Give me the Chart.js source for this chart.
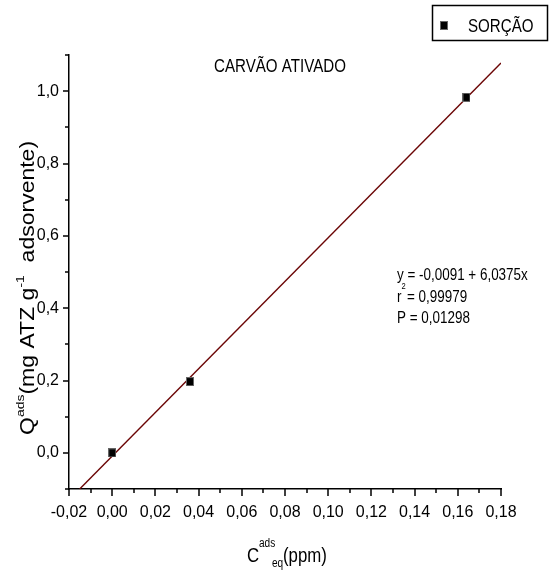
<!DOCTYPE html>
<html>
<head>
<meta charset="utf-8">
<script src="https://cdn.jsdelivr.net/npm/chart.js@4.4.1/dist/chart.umd.min.js"></script>
<style>
  html, body { margin: 0; padding: 0; background: #fff; }
  #wrap { width: 552px; height: 570px; position: relative; }
</style>
</head>
<body>
<div id="wrap"><canvas id="chart"></canvas></div>
<script>
// axis ticks (major ones get labels)
const xTickValues = [-0.02, 0.00, 0.02, 0.04, 0.06, 0.08, 0.10, 0.12, 0.14, 0.16, 0.18];
const xMinorValues = [-0.01, 0.01, 0.03, 0.05, 0.07, 0.09, 0.11, 0.13, 0.15, 0.17];
const yTickValues = [0.0, 0.2, 0.4, 0.6, 0.8, 1.0];
const yMinorValues = [-0.1, 0.1, 0.3, 0.5, 0.7, 0.9, 1.1];

// sorção - carvão ativado
const sorcaoX = [0.000, 0.036, 0.164];
const sorcaoY = [0.000, 0.197, 0.983];

// regressão linear: y = a + b x
const fitIntercept = -0.0091;
const fitSlope = 6.0375;
const fitRange = [-0.01506, 0.18];
const fitLines = ["y = -0,0091 + 6,0375x", "= 0,99979", "P = 0,01298"];

const SQUEEZE = 0.84;
const FONT = '"Liberation Sans", Arial, sans-serif';
const TICK_FONT = '"Liberation Sans Narrow", "Arial Narrow", "Liberation Sans", Arial, sans-serif';

Chart.defaults.font.family = FONT;
Chart.defaults.color = "#000";

// small black square used for the points and the legend
const marker = document.createElement("canvas");
marker.width = 8;
marker.height = 9;
(function () {
  const m = marker.getContext("2d");
  m.fillStyle = "#000";
  m.fillRect(0, 0, 8, 9);
  m.strokeStyle = "#666";
  m.lineWidth = 1;
  m.strokeRect(0.5, 0.5, 7, 8);
})();

function squeezedText(ctx, text, x, y, size, align) {
  ctx.save();
  ctx.translate(x, y);
  ctx.scale(SQUEEZE, 1);
  ctx.font = size + "px " + FONT;
  ctx.textAlign = align || "left";
  ctx.textBaseline = "alphabetic";
  ctx.fillStyle = "#000";
  ctx.fillText(text, 0, 0);
  const w = ctx.measureText(text).width * SQUEEZE;
  ctx.restore();
  return w;
}

const decorations = {
  id: "decorations",
  afterDraw(chart) {
    const ctx = chart.ctx;
    const xs = chart.scales.x;
    const ys = chart.scales.y;
    const { left, bottom } = chart.chartArea;

    // tick marks, pointing outwards
    ctx.save();
    ctx.strokeStyle = "#000";
    ctx.lineWidth = 1.5;
    ctx.beginPath();
    xTickValues.forEach(v => { const p = Math.round(xs.getPixelForValue(v)); ctx.moveTo(p, bottom); ctx.lineTo(p, bottom + 7); });
    xMinorValues.forEach(v => { const p = Math.round(xs.getPixelForValue(v)); ctx.moveTo(p, bottom); ctx.lineTo(p, bottom + 4); });
    yTickValues.forEach(v => { const p = Math.round(ys.getPixelForValue(v)); ctx.moveTo(left, p); ctx.lineTo(left - 6, p); });
    yMinorValues.forEach(v => { const p = Math.round(ys.getPixelForValue(v)); ctx.moveTo(left, p); ctx.lineTo(left - 4, p); });
    ctx.stroke();
    ctx.restore();

    // title
    squeezedText(ctx, "CARVÃO ATIVADO", 280, 72, 18, "center");

    // legend box
    ctx.save();
    ctx.strokeStyle = "#000";
    ctx.lineWidth = 1.5;
    ctx.strokeRect(432.5, 5.5, 115, 35);
    ctx.drawImage(marker, 440, 21);
    ctx.restore();
    squeezedText(ctx, chart.data.datasets[0].label, 468, 32, 18);

    // fit results
    squeezedText(ctx, fitLines[0], 397, 280, 16);
    const rw = squeezedText(ctx, "r", 397, 302, 16);
    squeezedText(ctx, "2", 397 + rw, 289, 9);
    squeezedText(ctx, fitLines[1], 407, 302, 16);
    squeezedText(ctx, fitLines[2], 397, 323, 16);

    // x axis title
    squeezedText(ctx, "C", 247, 562, 20);
    squeezedText(ctx, "ads", 259, 547, 12);
    squeezedText(ctx, "eq", 272, 567, 12);
    squeezedText(ctx, "(ppm)", 283, 562, 20);

    // y axis title, rotated
    ctx.save();
    ctx.translate(34, 435);
    ctx.scale(SQUEEZE, 1);
    ctx.rotate(-Math.PI / 2);
    ctx.fillStyle = "#000";
    ctx.textBaseline = "alphabetic";
    ctx.textAlign = "left";
    let x = 0;
    const part = (text, size, dy) => {
      ctx.font = size + "px " + FONT;
      ctx.fillText(text, x, dy);
      x += ctx.measureText(text).width;
    };
    part("Q", 23, 0);
    part("ads", 14, -12);
    part("(mg ATZ g", 23, 0);
    part("-1", 14, -12);
    part("  adsorvente)", 23, 0);
    ctx.restore();
  }
};

const fmt = digits => v => Number(v).toFixed(digits).replace(".", ",");

new Chart(document.getElementById("chart"), {
  type: "scatter",
  data: {
    datasets: [
      {
        label: "SORÇÃO",
        data: sorcaoX.map((x, i) => ({ x, y: sorcaoY[i] })),
        pointStyle: marker,
        pointRadius: 5,
        order: 0
      },
      {
        label: "ajuste linear",
        type: "line",
        data: fitRange.map(x => ({ x, y: fitIntercept + fitSlope * x })),
        borderColor: "#6b0505",
        borderWidth: 1.4,
        pointRadius: 0,
        fill: false,
        order: 1
      }
    ]
  },
  options: {
    responsive: true,
    maintainAspectRatio: false,
    animation: false,
    layout: { padding: { top: 55, right: 51, left: 0, bottom: 0 } },
    plugins: {
      legend: { display: false },
      title: { display: false },
      tooltip: { enabled: false }
    },
    scales: {
      x: {
        type: "linear",
        min: -0.02,
        max: 0.18,
        afterBuildTicks: s => { s.ticks = xTickValues.map(v => ({ value: v })); },
        afterFit: s => { s.height = 81; },
        grid: { display: true, drawOnChartArea: false, drawTicks: false },
        border: { display: true, color: "#000", width: 1.5 },
        ticks: {
          font: { family: TICK_FONT, size: 16 },
          color: "#000",
          padding: 14,
          maxRotation: 0,
          autoSkip: false,
          callback: fmt(2)
        }
      },
      y: {
        type: "linear",
        min: -0.1,
        max: 1.1,
        afterBuildTicks: s => { s.ticks = yTickValues.map(v => ({ value: v })); },
        afterFit: s => { s.width = 69; },
        grid: { display: true, drawOnChartArea: false, drawTicks: false },
        border: { display: true, color: "#000", width: 1.5 },
        ticks: {
          font: { family: TICK_FONT, size: 16 },
          color: "#000",
          padding: 10,
          autoSkip: false,
          callback: fmt(1)
        }
      }
    }
  },
  plugins: [decorations]
});
</script>
</body>
</html>
